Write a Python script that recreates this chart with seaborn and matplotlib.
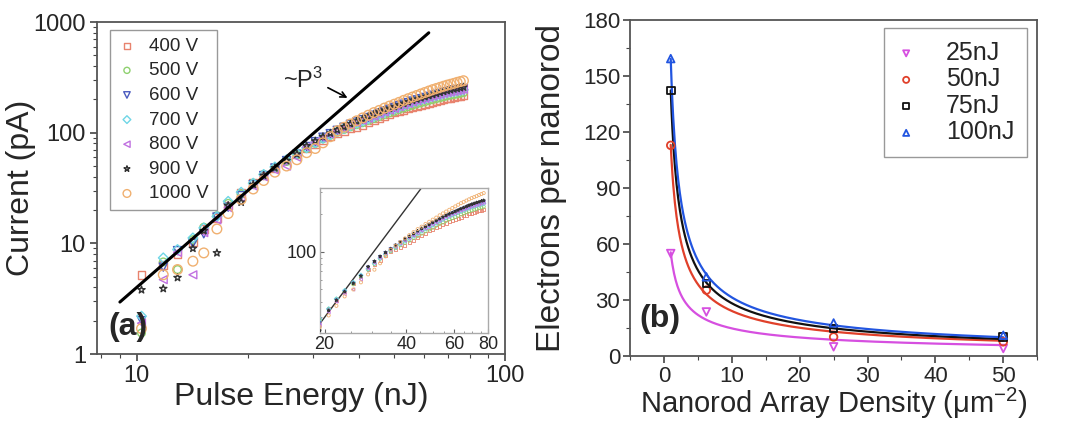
import numpy as np
import pandas as pd
import matplotlib
matplotlib.use('Agg')
import matplotlib.pyplot as plt
import matplotlib.ticker as mticker
import seaborn as sns

# ---------------- panel (a): current vs pulse energy ----------------
energy = [10.3, 11.8, 12.9, 14.2, 15.2, 16.5, 17.7, 19.2, 20.7, 22.1, 23.7, 25.5, 27.2,
          28.9, 30.5, 32, 33.5, 35, 36.5, 38, 39.5, 41, 42.5, 44, 45.5, 47, 48.5, 50,
          51.5, 53, 54.5, 56, 57.5, 59, 60.5, 62, 63.5, 65, 66.5, 68, 69.5, 71, 72.5,
          74, 75.5, 77]

cur_400 = [5.2, 6.4, 8.0, 10.3, 13.5, 17.0, 22.0, 28.5, 35, 41, 48, 56, 64,
           72, 79, 86, 93, 100, 104, 109, 113, 118, 124, 130, 136, 141, 147, 152,
           157, 161, 166, 170, 174, 178, 182, 186, 190, 194, 197, 201, 204, 207, 210,
           213, 215, 218]
cur_500 = [1.55, 6.8, 5.8, 10.8, 14.0, 17.8, 23.0, 28, 35, 42, 48, 55, 63,
           72, 80, 88, 95, 101, 107, 113, 118, 123, 129, 134, 140, 146, 151, 156,
           162, 167, 172, 177, 182, 186, 190, 195, 199, 203, 207, 211, 215, 218, 221,
           224, 227, 230]
cur_600 = [2.0, 6.1, 8.6, 10.0, 12.2, 17.3, 21.2, 27, 34, 41, 48, 56, 64,
           75, 83, 91, 98, 105, 112, 119, 125, 131, 137, 144, 151, 157, 163, 169,
           175, 181, 187, 193, 198, 203, 208, 213, 218, 222, 226, 231, 235, 239, 242,
           245, 248, 251]
cur_700 = [2.2, 7.4, 8.8, 11.2, 13.8, 17.5, 24, 29, 35, 42, 49, 57, 65,
           73, 81, 89, 96, 103, 109, 116, 122, 128, 134, 140, 147, 153, 159, 164,
           170, 176, 182, 188, 193, 198, 202, 207, 212, 216, 220, 225, 229, 232, 235,
           238, 241, 244]
cur_800 = [1.9, 4.7, 8.3, 5.2, 12.5, 16.3, 21, 26, 33, 40, 46, 50, 60,
           74, 82, 90, 97, 104, 110, 117, 123, 129, 135, 141, 148, 154, 160, 166,
           172, 178, 184, 190, 195, 200, 204, 209, 214, 218, 222, 227, 231, 234, 237,
           240, 243, 247]
cur_900 = [3.8, 3.9, 4.9, 9.0, 13.0, 8.2, 22, 23.5, 34, 41, 48, 56, 64,
           76, 84, 92, 99, 106, 113, 120, 127, 133, 140, 147, 154, 160, 166, 172,
           178, 184, 190, 196, 201, 206, 211, 216, 221, 226, 231, 236, 240, 244, 248,
           251, 255, 258]
cur_1000 = [1.7, 5.2, 5.8, 6.9, 8.2, 13.5, 18.6, 25, 31, 37, 44, 50, 57,
            66, 72, 81, 92, 104, 112, 120, 128, 136, 144, 152, 159, 167, 174, 181,
            188, 196, 203, 210, 217, 224, 231, 238, 245, 251, 257, 263, 269, 274, 279,
            285, 290, 295]

volt_labels = ['400 V', '500 V', '600 V', '700 V', '800 V', '900 V', '1000 V']
volt_series = [cur_400, cur_500, cur_600, cur_700, cur_800, cur_900, cur_1000]
volt_colors = ['#e8836e', '#8fd16f', '#4b5bbf', '#6fd6e6', '#c070e0', '#333333', '#f0b070']
volt_markers = ['s', 'o', 'v', 'D', '<', '*', 'o']
volt_sizes = [30, 30, 34, 24, 32, 30, 48]

# ~P^3 guide line (end points)
p3_x = [9.0, 62.0]
p3_y = [2.95, 800.0]

# ---------------- panel (b): electrons per nanorod ----------------
density = [1, 6.25, 25, 50]
el_25 = [55.0, 23.7, 5.0, 4.1]
el_50 = [113.0, 35.4, 10.3, 7.7]
el_75 = [142.5, 38.9, 14.8, 10.3]
el_100 = [159.5, 42.5, 17.8, 11.2]

pulse_labels = ['25nJ', '50nJ', '75nJ', '100nJ']
pulse_series = [el_25, el_50, el_75, el_100]
pulse_colors = ['#d64fe0', '#e0402a', '#111111', '#2255e0']
pulse_markers = ['v', 'o', 's', '^']


def power_fit(x, y):
    # least squares fit of y = a * x^-b
    x = np.asarray(x, float)
    y = np.asarray(y, float)
    best = None
    for b in np.linspace(0.1, 1.5, 1401):
        f = x ** -b
        a = (y @ f) / (f @ f)
        err = ((y - a * f) ** 2).sum()
        if best is None or err < best[0]:
            best = (err, a, b)
    return best[1], best[2]


sns.set_style('ticks')
plt.rcParams['font.family'] = ['Liberation Sans', 'DejaVu Sans']
plt.rcParams['mathtext.fontset'] = 'custom'
plt.rcParams['mathtext.rm'] = 'Liberation Sans'
plt.rcParams['mathtext.it'] = 'Liberation Sans:italic'
plt.rcParams['mathtext.bf'] = 'Liberation Sans:bold'

rows = []
for lab, ys in zip(volt_labels, volt_series):
    for x, y in zip(energy, ys):
        rows.append((lab, x, y))
df_a = pd.DataFrame(rows, columns=['bias', 'energy', 'current'])

fig = plt.figure(figsize=(10.66, 4.24), dpi=100)
ax1 = fig.add_axes([0.091, 0.165, 0.383, 0.783])
ax2 = fig.add_axes([0.591, 0.160, 0.382, 0.792])
axin = fig.add_axes([0.300, 0.215, 0.158, 0.342])

# --- main log-log panel
ax1.set_xscale('log')
ax1.set_yscale('log')
for lab, col, mk, sz in zip(volt_labels, volt_colors, volt_markers, volt_sizes):
    sub = df_a[df_a['bias'] == lab]
    sns.scatterplot(data=sub, x='energy', y='current', marker=mk, s=sz,
                    facecolor='none', edgecolor=col, linewidth=1.0,
                    label=lab, ax=ax1, zorder=3)
sns.lineplot(x=p3_x, y=p3_y, color='black', linewidth=2.2, ax=ax1, zorder=4)

ax1.set_xlim(7.8, 100)
ax1.set_ylim(1, 1000)
ax1.xaxis.set_major_locator(mticker.FixedLocator([10, 100]))
ax1.yaxis.set_major_locator(mticker.FixedLocator([1, 10, 100, 1000]))
ax1.xaxis.set_major_formatter(mticker.FuncFormatter(lambda v, p: f'{v:g}'))
ax1.yaxis.set_major_formatter(mticker.FuncFormatter(lambda v, p: f'{v:g}'))
ax1.xaxis.set_minor_locator(mticker.LogLocator(base=10, subs=np.arange(2, 10)))
ax1.yaxis.set_minor_locator(mticker.LogLocator(base=10, subs=np.arange(2, 10)))
ax1.xaxis.set_minor_formatter(mticker.NullFormatter())
ax1.yaxis.set_minor_formatter(mticker.NullFormatter())
ax1.tick_params(which='major', direction='out', length=5, width=1.2, labelsize=17,
                pad=3, color='#444444')
ax1.tick_params(which='minor', direction='out', length=3, width=0.8, color='#444444')
ax1.set_xlabel('Pulse Energy (nJ)', fontsize=23)
ax1.set_ylabel('Current (pA)', fontsize=23)
ax1.xaxis.set_label_coords(0.5, -0.085)
ax1.yaxis.set_label_coords(-0.15, 0.5)
for sp in ax1.spines.values():
    sp.set_visible(True)
    sp.set_color('#555555')
    sp.set_linewidth(1.3)

ax1.text(0.075, 0.08, '(a)', transform=ax1.transAxes, fontsize=23,
         fontweight='bold', ha='center', va='center')
ax1.text(28.3, 300, '~P$^3$', fontsize=17, ha='center', va='center')
ax1.annotate('', xy=(37.9, 201), xytext=(32.5, 262),
             arrowprops=dict(arrowstyle='->', lw=1.2, color='black'))

ax1.legend(loc='upper left', bbox_to_anchor=(0.032, 0.976), borderaxespad=0,
           fontsize=13.5, frameon=True, fancybox=False, edgecolor='#999999',
           framealpha=1, labelspacing=0.4, handlelength=1.0, handletextpad=0.7,
           borderpad=0.4, markerscale=0.8)

# --- inset
axin.set_xscale('log')
axin.set_yscale('log')
for lab, col, mk in zip(volt_labels, volt_colors, volt_markers):
    sub = df_a[df_a['bias'] == lab]
    sns.scatterplot(data=sub, x='energy', y='current', marker=mk, s=5,
                    facecolor='none', edgecolor=col, linewidth=0.6, ax=axin, zorder=3)
sns.lineplot(x=p3_x, y=p3_y, color='#333333', linewidth=1.0, ax=axin, zorder=2)
axin.set_xlim(19.2, 80)
axin.set_ylim(22.5, 325)
axin.xaxis.set_major_locator(mticker.FixedLocator([20, 40, 60, 80]))
axin.xaxis.set_minor_locator(mticker.FixedLocator([25, 30, 35, 45, 50, 55, 65, 70, 75]))
axin.yaxis.set_major_locator(mticker.FixedLocator([100]))
axin.yaxis.set_minor_locator(mticker.FixedLocator([30, 40, 50, 60, 70, 80, 90, 200, 300]))
axin.xaxis.set_major_formatter(mticker.FuncFormatter(lambda v, p: f'{v:g}'))
axin.yaxis.set_major_formatter(mticker.FuncFormatter(lambda v, p: f'{v:g}'))
axin.xaxis.set_minor_formatter(mticker.NullFormatter())
axin.yaxis.set_minor_formatter(mticker.NullFormatter())
axin.tick_params(which='major', direction='in', length=3, width=0.8, labelsize=13,
                 pad=2, color='#666666')
axin.tick_params(which='minor', direction='in', length=1.5, width=0.6, color='#888888')
axin.set_xlabel('')
axin.set_ylabel('')
for sp in axin.spines.values():
    sp.set_visible(True)
    sp.set_color('#aaaaaa')
    sp.set_linewidth(1.0)

# --- panel (b)
rows_b = []
for lab, ys in zip(pulse_labels, pulse_series):
    for x, y in zip(density, ys):
        rows_b.append((lab, x, y))
df_b = pd.DataFrame(rows_b, columns=['pulse', 'density', 'electrons'])

x_fit = np.linspace(min(density), max(density), 400)
for lab, col, mk in zip(pulse_labels, pulse_colors, pulse_markers):
    sub = df_b[df_b['pulse'] == lab]
    a, b = power_fit(sub['density'], sub['electrons'])
    sns.lineplot(x=x_fit, y=a * x_fit ** -b, color=col, linewidth=1.6, ax=ax2, zorder=2)
    sns.scatterplot(data=sub, x='density', y='electrons', marker=mk, s=30,
                    facecolor='none', edgecolor=col, linewidth=1.3, label=lab,
                    ax=ax2, zorder=3)

ax2.set_xlim(-5, 55)
ax2.set_ylim(0, 180)
ax2.xaxis.set_major_locator(mticker.MultipleLocator(10))
ax2.xaxis.set_minor_locator(mticker.MultipleLocator(5))
ax2.yaxis.set_major_locator(mticker.MultipleLocator(30))
ax2.yaxis.set_minor_locator(mticker.MultipleLocator(15))
ax2.tick_params(which='major', direction='out', length=5, width=1.2, labelsize=16,
                pad=2, color='#444444')
ax2.tick_params(which='minor', direction='out', length=3, width=0.8, color='#444444')
ax2.set_xlabel('Nanorod Array Density (μm$^{-2}$)', fontsize=21)
ax2.set_ylabel('Electrons per nanorod', fontsize=24)
ax2.xaxis.set_label_coords(0.5, -0.088)
ax2.yaxis.set_label_coords(-0.155, 0.5)
for sp in ax2.spines.values():
    sp.set_visible(True)
    sp.set_color('#555555')
    sp.set_linewidth(1.3)

ax2.text(0.074, 0.11, '(b)', transform=ax2.transAxes, fontsize=23,
         fontweight='bold', ha='center', va='center')

ax2.legend(loc='upper right', bbox_to_anchor=(0.975, 0.976), borderaxespad=0,
           fontsize=18, frameon=True, fancybox=False, edgecolor='#999999',
           framealpha=1, labelspacing=0.1, handlelength=0.8, handletextpad=1.2,
           borderpad=0.5, markerscale=0.8)

fig.savefig('out.png', dpi=100)
